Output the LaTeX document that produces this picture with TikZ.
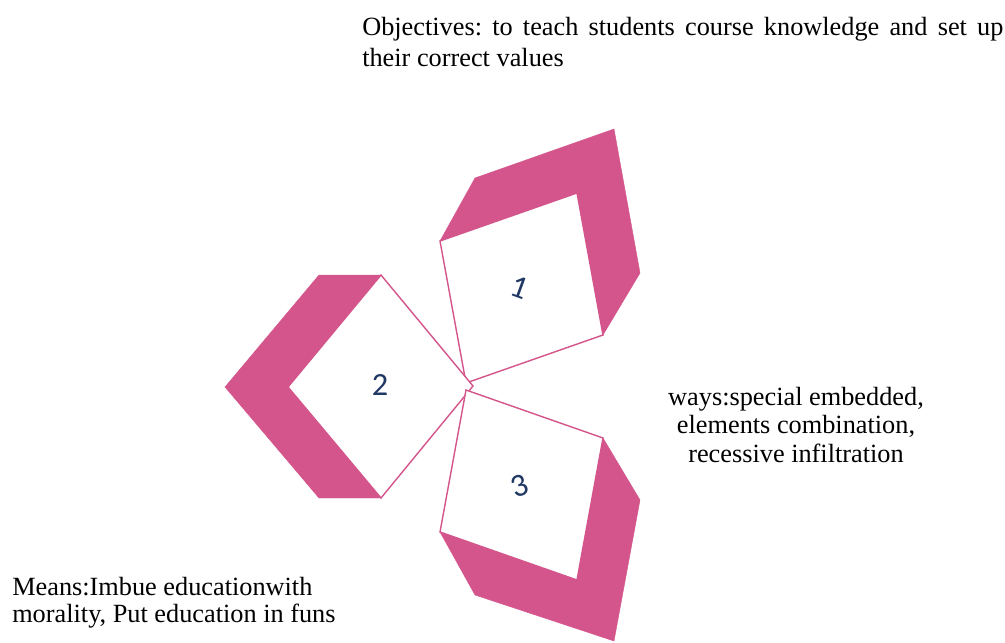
\documentclass[tikz,border=0pt]{standalone}
\usepackage{fontspec}
\setmainfont{Liberation Serif}
\newfontfamily\numfont{Carlito}
\definecolor{petal}{RGB}{212,85,139}
\definecolor{numblue}{RGB}{31,56,100}
\frenchspacing

\begin{document}
\begin{tikzpicture}[x=0.025cm, y=-0.025cm,
    band/.style={fill=petal, draw=petal, line width=0.3pt},
    face/.style={fill=white, draw=petal, line width=1pt},
    num/.style={font=\numfont\fontsize{23}{23}\selectfont, text=numblue, inner sep=0pt},
    note/.style={font=\fontsize{18.7}{#1}\selectfont, inner sep=0pt}]

    \useasboundingbox (0,0) rectangle (1005,643);

    % top box
    \fill[band] (440,241) -- (475,178) -- (614,129) -- (640,273) -- (603,335) -- (577,193) -- cycle;
    \draw[face] (440,241) -- (577,193) -- (603,335) -- (466,383) -- cycle;

    % left box
    \fill[band] (381,275) -- (319,275) -- (225,387) -- (319,498) -- (381,498) -- (288,387) -- cycle;
    \draw[face] (381,275) -- (473,386) -- (381,498) -- (288,387) -- cycle;

    % bottom box
    \fill[band] (440,532) -- (475,595) -- (614,641) -- (640,500) -- (603,438) -- (577,580) -- cycle;
    \draw[face] (440,532) -- (577,580) -- (603,438) -- (466,390) -- cycle;

    \node[num, rotate=-20] (one) at (520,288) {1};
    \node[num] (two) at (380,385) {2};
    \node[num, rotate=20] (three) at (520,486) {3};

    \node[note=22, anchor=north west, text width=16.025cm, align=justify] (goal) at (362,17)
        {Objectives: to teach students course knowledge and set up their correct values};
    \node[note=20.1, anchor=north, align=center] (ways) at (796,387)
        {ways:special embedded,\\ elements combination,\\ recessive infiltration};
    \node[note=19, anchor=north west, align=left] (means) at (12,577)
        {Means:Imbue educationwith\\ morality, Put education in funs};

\end{tikzpicture}
\end{document}
